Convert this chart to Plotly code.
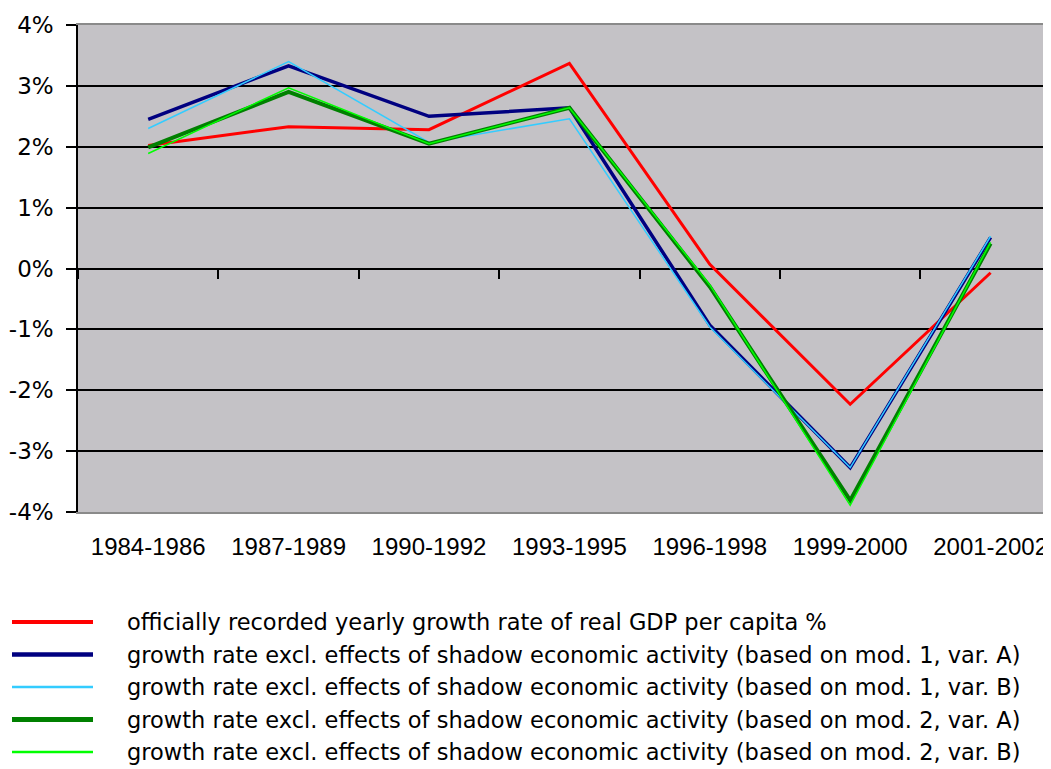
import plotly.graph_objects as go

periods = ['1984-1986', '1987-1989', '1990-1992', '1993-1995',
           '1996-1998', '1999-2000', '2001-2002']

official = [2.02, 2.33, 2.28, 3.37, 0.07, -2.23, -0.07]
mod1_varA = [2.45, 3.33, 2.50, 2.64, -0.93, -3.27, 0.51]
mod1_varB = [2.30, 3.40, 2.07, 2.46, -0.96, -3.27, 0.53]
mod2_varA = [1.99, 2.90, 2.05, 2.64, -0.30, -3.81, 0.41]
mod2_varB = [1.89, 2.97, 2.05, 2.64, -0.27, -3.89, 0.43]

y_ticks = [4, 3, 2, 1, 0, -1, -2, -3, -4]
y_labels = ['4%', '3%', '2%', '1%', '0%', '-1%', '-2%', '-3%', '-4%']

names = [
    'officially recorded yearly growth rate of real GDP per capita %',
    'growth rate excl. effects of shadow economic activity (based on mod. 1, var. A)',
    'growth rate excl. effects of shadow economic activity (based on mod. 1, var. B)',
    'growth rate excl. effects of shadow economic activity (based on mod. 2, var. A)',
    'growth rate excl. effects of shadow economic activity (based on mod. 2, var. B)',
]
series = [official, mod1_varA, mod1_varB, mod2_varA, mod2_varB]
colors = ['#FF0000', '#000080', '#33CCFF', '#008000', '#00FF00']
widths = [3, 3.5, 1.5, 4, 1.5]

# page body has an 8px margin, so the figure is shrunk by that much
OFF = 8
W, H = 1051 - OFF, 769 - OFF
ml, mr, mt, mb = 78 - OFF, 0, 25 - OFF, 257
pw, ph = W - ml - mr, H - mt - mb

fig = go.Figure()
for name, vals, c, w in zip(names, series, colors, widths):
    fig.add_trace(go.Scatter(x=periods, y=vals, mode='lines', name=name,
                             line=dict(color=c, width=w), showlegend=False))

# dummy trace so the category ticks on the zero line get drawn
fig.add_trace(go.Scatter(x=periods, y=[None] * len(periods), xaxis='x2', yaxis='y2',
                         showlegend=False, hoverinfo='skip'))

xr = [-0.5, -0.5 + pw / 140.4]

fig.update_layout(
    width=W, height=H,
    margin=dict(l=ml, r=mr, t=mt, b=mb, autoexpand=False),
    paper_bgcolor='white',
    plot_bgcolor='rgba(0,0,0,0)',
    font=dict(family='DejaVu Sans', size=22, color='black'),
    xaxis=dict(type='category', range=xr, showgrid=False, zeroline=False,
               showline=True, linecolor='#8A8A8A', linewidth=1.5, mirror=True,
               ticks='', ticklabelstandoff=12, automargin=False,
               tickfont=dict(family='Liberation Sans', size=24)),
    yaxis=dict(range=[-4, 4], tickvals=y_ticks, ticktext=y_labels, showgrid=True,
               gridcolor='black', gridwidth=1.5, zeroline=False,
               showline=True, linecolor='black', linewidth=1.5, automargin=False,
               ticks='outside', ticklen=10, tickcolor='black', tickwidth=1.5,
               ticklabelstandoff=8, tickfont=dict(size=23)),
    xaxis2=dict(type='category', overlaying='x', anchor='y2', range=xr,
                showgrid=False, zeroline=False, showline=False,
                tickson='boundaries', ticks='outside', ticklen=9,
                tickcolor='black', tickwidth=1.5, showticklabels=False),
    yaxis2=dict(domain=[0.5, 1], range=[0, 1], visible=False),
)

# grey plot background behind the grid
fig.add_shape(type='rect', xref='x domain', yref='y domain', x0=0, x1=1, y0=0, y1=1,
              fillcolor='#C4C2C6', line=dict(width=0), layer='below')

# legend drawn below the chart, long line samples like the original
row0, step = 622 - OFF, 32.5
for i, (name, c, w) in enumerate(zip(names, colors, widths)):
    py = row0 + i * step
    yp = (H - mb - py) / ph
    fig.add_shape(type='line', xref='paper', yref='paper',
                  x0=(12 - OFF - ml) / pw, x1=(93 - OFF - ml) / pw, y0=yp, y1=yp,
                  line=dict(color=c, width=w + 1))
    fig.add_annotation(text=name, xref='paper', yref='paper',
                       x=(125 - OFF - ml) / pw, y=yp, xanchor='left', yanchor='middle',
                       showarrow=False, font=dict(size=22.5))

fig.write_html('out.html')
